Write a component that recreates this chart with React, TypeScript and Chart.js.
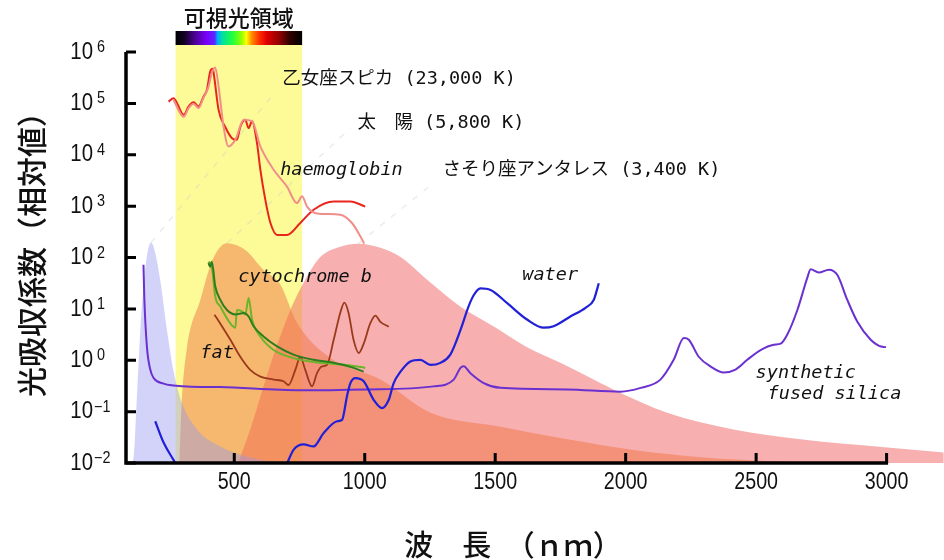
import React, { useEffect, useRef } from "react";
import { Chart, registerables } from "chart.js";

Chart.register(...registerables);

// ---- axes / ticks ----
const xTicks = [500, 1000, 1500, 2000, 2500, 3000];
const yTickExponents = [-2, -1, 0, 1, 2, 3, 4, 5, 6];
const xTitle = "波　長　（ｎｍ）";
const yTitle = "光吸収係数（相対値）";
const bandTitle = "可視光領域";
const visibleBand = [275, 760];

// ---- black-body style filled curves (wavelength nm, relative value) ----
const spicaX = [100, 113, 127, 140, 152, 165, 181, 197, 216, 242, 266, 299, 357, 446, 600, 720];
const spicaY = [0.01, 0.012, 0.2, 3.9, 27, 105, 195, 123, 37, 3.9, 0.66, 0.15, 0.045, 0.021, 0.0115, 0.01];

const sunX = [289, 299, 319, 370, 416, 472, 542, 611, 676, 738, 868, 1060, 1252, 1520, 1776, 2030, 2287, 2594, 2862];
const sunY = [0.01, 0.17, 1.8, 15, 89, 190, 140, 58, 30, 5.6, 1.1, 0.42, 0.095, 0.051, 0.029, 0.018, 0.013, 0.0107, 0.01];

const antaresX = [515, 561, 638, 715, 772, 830, 906, 975, 1060, 1137, 1239, 1367, 1493, 1622, 1750, 1877, 1980, 2159, 2413, 2670, 3003, 3219];
const antaresY = [0.01, 0.045, 0.81, 9.5, 37, 102, 162, 186, 155, 102, 37, 11, 4.6, 1.8, 0.89, 0.42, 0.23, 0.095, 0.045, 0.029, 0.02, 0.016];

// leader lines from each curve's peak to its label: [x0, x1], [y0, y1]
const spicaLeaderX = [181, 650];
const spicaLeaderY = [195, 1.5e5];
const sunLeaderX = [472, 945];
const sunLeaderY = [190, 3.3e4];
const antaresLeaderX = [975, 1263];
const antaresLeaderY = [186, 2.8e3];

// ---- absorption lines ----
const hbRedX = [248, 267, 306, 325, 344, 363, 382, 395, 408, 418, 423, 440, 465, 491, 510, 523, 542, 555, 568, 587, 600, 619, 638, 664, 702, 753, 804, 881, 945, 1002];
const hbRedY = [1.08e5, 1.26e5, 6.0e4, 8.7e4, 1.05e5, 8.7e4, 1.35e5, 1.82e5, 4.2e5, 4.7e5, 3.3e5, 7.4e4, 3.5e4, 2.1e4, 1.95e4, 3.5e4, 4.8e4, 3.3e4, 4.5e4, 1.7e4, 5.1e3, 1.32e3, 480, 275, 275, 470, 850, 1230, 1230, 980];

const hbLightX = [267, 306, 325, 344, 363, 382, 400, 414, 427, 440, 459, 478, 504, 536, 568, 600, 651, 702, 740, 760, 779, 817, 906, 951, 983, 998];
const hbLightY = [1.17e5, 5.5e4, 8.1e4, 9.8e4, 8.1e4, 1.29e5, 2.0e5, 3.9e5, 5.0e5, 2.1e5, 3.5e4, 1.45e4, 1.95e4, 4.8e4, 4.5e4, 1.45e4, 5.1e3, 2.4e3, 1.15e3, 1.55e3, 980, 720, 680, 470, 260, 186];

const cytoDarkX = [401, 408, 414, 427, 446, 472, 504, 536, 555, 574, 612, 664, 727, 804, 881, 957, 996];
const cytoDarkY = [78, 66, 83, 27.5, 15.1, 9.5, 7.8, 8.3, 7.1, 4.6, 2.9, 1.86, 1.29, 1.02, 0.89, 0.71, 0.6];

const cytoLightX = [401, 414, 427, 446, 485, 504, 510, 530, 542, 555, 568, 600, 651, 727, 830, 932, 1002];
const cytoLightY = [83, 66, 17.4, 11.2, 5.2, 4.3, 9.5, 8.9, 7.8, 16.2, 6.2, 2.9, 1.58, 1.1, 0.89, 0.81, 0.71];

const fatX = [424, 446, 485, 523, 561, 600, 651, 689, 708, 734, 753, 772, 798, 817, 836, 855, 881, 906, 922, 938, 957, 977, 996, 1021, 1041, 1060, 1092];
const fatY = [7.7, 5.2, 2.5, 1.17, 0.65, 0.48, 0.42, 0.39, 0.33, 0.65, 1.17, 0.65, 0.31, 0.56, 0.76, 0.81, 2.5, 8.3, 13.2, 8.3, 2.5, 1.38, 2.1, 5.2, 7.4, 5.6, 4.5];

const waterUvX = [197, 229, 267, 274];
const waterUvY = [0.065, 0.025, 0.0115, 0.01];

const waterIrX = [703, 727, 766, 804, 842, 894, 913, 932, 945, 964, 996, 1034, 1066, 1092, 1111, 1137, 1175, 1213, 1252, 1290, 1328, 1367, 1398, 1418, 1443, 1482, 1546, 1622, 1686, 1724, 1788, 1846, 1878, 1897];
const waterIrY = [0.01, 0.018, 0.023, 0.021, 0.038, 0.065, 0.069, 0.2, 0.36, 0.45, 0.39, 0.17, 0.117, 0.17, 0.36, 0.6, 0.95, 1.02, 0.81, 0.89, 1.29, 3.9, 11.2, 18.6, 25, 23.4, 12.9, 6.2, 4.3, 4.6, 7.1, 10.5, 15.1, 31.6];

const silicaX = [152, 155, 165, 178, 191, 229, 319, 446, 753, 1009, 1264, 1341, 1367, 1379, 1405, 1456, 1520, 1776, 1980, 2057, 2133, 2184, 2223, 2242, 2280, 2325, 2376, 2421, 2466, 2517, 2568, 2594, 2620, 2658, 2696, 2709, 2740, 2779, 2811, 2849, 2888, 2939, 2971, 2998];
const silicaY = [72, 17.4, 1.86, 0.66, 0.45, 0.35, 0.31, 0.3, 0.26, 0.27, 0.31, 0.42, 0.71, 0.76, 0.56, 0.36, 0.29, 0.27, 0.245, 0.29, 0.42, 1.02, 2.7, 2.5, 1.17, 0.76, 0.58, 0.66, 1.02, 1.58, 2.0, 2.1, 3.2, 9.5, 40, 59, 51, 58, 46, 15.1, 5.6, 2.5, 1.9, 1.8];

// ---- text annotations (anchored in data coordinates) ----
const annotations = [
  { text: "乙女座スピカ (23,000 K)", x: 684, y: 2.9e5, italic: false },
  { text: "太　陽 (5,800 K)", x: 972, y: 4.2e4, italic: false },
  { text: "haemoglobin", x: 676, y: 4.9e3, italic: true },
  { text: "さそり座アンタレス (3,400 K)", x: 1298, y: 4.9e3, italic: false },
  { text: "cytochrome b", x: 515, y: 42, italic: true },
  { text: "fat", x: 370, y: 1.4, italic: true },
  { text: "water", x: 1604, y: 46, italic: true },
  { text: "synthetic", x: 2498, y: 0.57, italic: true },
  { text: "fused silica", x: 2544, y: 0.214, italic: true },
];

const spectrumStops: [number, string][] = [
  [0.0, "#000000"],
  [0.07, "#120024"],
  [0.15, "#4a0090"],
  [0.25, "#7a00ff"],
  [0.31, "#5a28ff"],
  [0.33, "#00a8ff"],
  [0.37, "#00e0a0"],
  [0.45, "#20ff40"],
  [0.52, "#90ff00"],
  [0.56, "#ffff00"],
  [0.6, "#ff9000"],
  [0.66, "#ff3000"],
  [0.72, "#e00000"],
  [0.82, "#900000"],
  [0.9, "#300000"],
  [1.0, "#000000"],
];

const FONT_JP = "'Noto Sans CJK JP', sans-serif";
const FONT_LABEL = "'DejaVu Sans Mono', 'Noto Sans CJK JP', monospace";
const FONT_NUM = "'Liberation Sans', 'DejaVu Sans', sans-serif";

const pts = (xs: number[], ys: number[]) => xs.map((x, i) => ({ x, y: ys[i] }));

const lineDs = (label: string, xs: number[], ys: number[], color: string, width = 2) => ({
  label,
  data: pts(xs, ys),
  borderColor: color,
  borderWidth: width,
  pointRadius: 0,
  fill: false,
  cubicInterpolationMode: "monotone" as const,
});

const leaderDs = (label: string, xs: number[], ys: number[]) => ({
  label,
  data: pts(xs, ys),
  borderColor: "rgba(200,200,200,0.35)",
  borderWidth: 1.5,
  borderDash: [6, 8],
  pointRadius: 0,
  fill: false,
});

const fillDs = (label: string, xs: number[], ys: number[], color: string) => ({
  label,
  data: pts(xs, ys),
  borderWidth: 0,
  borderColor: "rgba(0,0,0,0)",
  backgroundColor: color,
  pointRadius: 0,
  fill: "start",
  cubicInterpolationMode: "monotone" as const,
});

const decorPlugin = {
  id: "decor",
  beforeDatasetsDraw(chart: any) {
    const { ctx, chartArea, scales } = chart;
    const x = scales.x;
    const x0 = x.getPixelForValue(visibleBand[0]);
    const x1 = x.getPixelForValue(visibleBand[1]);
    ctx.save();
    ctx.fillStyle = "#fcfb98";
    ctx.fillRect(x0, chartArea.top - 7, x1 - x0, chartArea.bottom - chartArea.top + 7);
    const g = ctx.createLinearGradient(x0, 0, x1, 0);
    spectrumStops.forEach(([p, c]) => g.addColorStop(p, c));
    ctx.fillStyle = g;
    ctx.fillRect(x0, chartArea.top - 21, x1 - x0, 14);
    ctx.fillStyle = "#111";
    ctx.font = `500 22px ${FONT_JP}`;
    ctx.textAlign = "center";
    ctx.textBaseline = "middle";
    ctx.fillText(bandTitle, (x0 + x1) / 2, chartArea.top - 34);
    ctx.restore();
  },
  afterDatasetsDraw(chart: any) {
    const { ctx, chartArea, scales } = chart;
    const x = scales.x;
    const y = scales.y;
    const L = chartArea.left;
    const B = chartArea.bottom;
    const T = chartArea.top;
    const xEnd = x.getPixelForValue(xTicks[xTicks.length - 1]);
    ctx.save();
    // axis lines
    ctx.strokeStyle = "#000";
    ctx.lineWidth = 3.5;
    ctx.beginPath();
    ctx.moveTo(L, T);
    ctx.lineTo(L, B + 1.75);
    ctx.moveTo(L - 1.75, B);
    ctx.lineTo(xEnd + 1.5, B);
    ctx.stroke();
    // inward ticks
    ctx.lineWidth = 3;
    ctx.beginPath();
    yTickExponents.forEach((e) => {
      const yy = y.getPixelForValue(Math.pow(10, e));
      ctx.moveTo(L, yy);
      ctx.lineTo(L + 10, yy);
    });
    xTicks.forEach((v) => {
      const xx = x.getPixelForValue(v);
      ctx.moveTo(xx, B);
      ctx.lineTo(xx, B - 10);
    });
    ctx.stroke();
    // x tick labels
    ctx.fillStyle = "#111";
    ctx.font = `24px ${FONT_NUM}`;
    ctx.textAlign = "center";
    ctx.textBaseline = "middle";
    xTicks.forEach((v) => {
      const xx = x.getPixelForValue(v);
      ctx.save();
      ctx.translate(xx, B + 19);
      ctx.scale(0.82, 1);
      ctx.fillText(String(v), 0, 0);
      ctx.restore();
    });
    // y tick labels 10^n
    yTickExponents.forEach((e) => {
      const yy = y.getPixelForValue(Math.pow(10, e));
      ctx.save();
      ctx.font = `24px ${FONT_NUM}`;
      ctx.textAlign = "right";
      ctx.textBaseline = "middle";
      ctx.translate(93, yy);
      ctx.scale(0.85, 1);
      ctx.fillText("10", 0, 0);
      ctx.restore();
      ctx.save();
      ctx.font = `16px ${FONT_NUM}`;
      ctx.textAlign = "left";
      ctx.textBaseline = "alphabetic";
      const ex = e < 0 ? "\u2212" + Math.abs(e) : String(e);
      ctx.translate(e < 0 ? 94 : 97, yy);
      ctx.scale(0.9, 1);
      ctx.fillText(ex, 0, 0);
      ctx.restore();
    });
    // axis titles
    ctx.font = `500 29px ${FONT_JP}`;
    ctx.textAlign = "center";
    ctx.textBaseline = "middle";
    ctx.fillText(xTitle, 513, 545);
    ctx.save();
    ctx.translate(32, 247);
    ctx.rotate(-Math.PI / 2);
    ctx.font = `500 30px ${FONT_JP}`;
    ctx.fillText(yTitle, 0, 0);
    ctx.restore();
    // annotations
    ctx.textAlign = "left";
    ctx.textBaseline = "middle";
    annotations.forEach((a) => {
      ctx.font = `${a.italic ? "italic " : ""}18.5px ${FONT_LABEL}`;
      ctx.fillStyle = "#111";
      ctx.fillText(a.text, x.getPixelForValue(a.x), y.getPixelForValue(a.y));
    });
    ctx.restore();
  },
};

export default function App() {
  const ref = useRef<HTMLCanvasElement | null>(null);
  useEffect(() => {
    if (!ref.current) return;
    const chart = new Chart(ref.current, {
      type: "line",
      data: {
        datasets: [
          lineDs("haemoglobin (light)", hbLightX, hbLightY, "#f28e8a", 2),
          lineDs("haemoglobin", hbRedX, hbRedY, "#e8261c", 2),
          lineDs("cytochrome b (dark)", cytoDarkX, cytoDarkY, "#2e7d1e", 2),
          lineDs("cytochrome b (light)", cytoLightX, cytoLightY, "#6cb52a", 2),
          lineDs("fat", fatX, fatY, "#9a3a1c", 1.8),
          lineDs("water UV", waterUvX, waterUvY, "#2020d8", 2.2),
          lineDs("water", waterIrX, waterIrY, "#2020d8", 2.2),
          lineDs("synthetic fused silica", silicaX, silicaY, "#6a30d0", 2),
          leaderDs("Spica leader", spicaLeaderX, spicaLeaderY),
          leaderDs("Sun leader", sunLeaderX, sunLeaderY),
          leaderDs("Antares leader", antaresLeaderX, antaresLeaderY),
          fillDs("Spica", spicaX, spicaY, "rgba(150,150,240,0.42)"),
          fillDs("Sun", sunX, sunY, "rgba(240,118,68,0.5)"),
          fillDs("Antares", antaresX, antaresY, "rgba(240,96,96,0.5)"),
        ],
      },
      options: {
        animation: false,
        responsive: false,
        layout: { padding: { left: 126, right: 0, top: 52, bottom: 97 } },
        scales: {
          x: { type: "linear", min: 85, max: 3220, display: false },
          y: { type: "logarithmic", min: 0.01, max: 1e6, display: false },
        },
        plugins: { legend: { display: false }, tooltip: { enabled: false } },
      },
      plugins: [decorPlugin],
    });
    return () => chart.destroy();
  }, []);
  return (
    <div style={{ position: "fixed", left: 0, top: 0, width: 944, height: 560, background: "#fff" }}>
      <canvas ref={ref} width={944} height={560} style={{ display: "block" }} />
    </div>
  );
}
